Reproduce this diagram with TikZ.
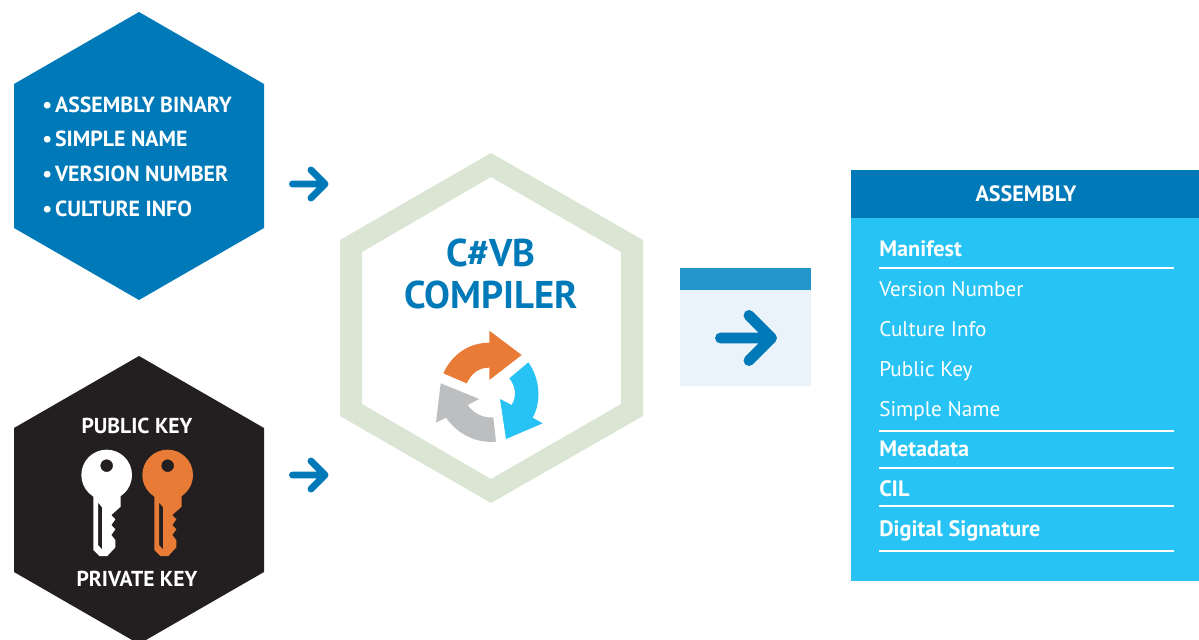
\documentclass[tikz,border=0pt]{standalone}
\usepackage{fontspec}
\setmainfont{PT Sans}
\usetikzlibrary{arrows.meta}
\definecolor{bluedark}{HTML}{0079B8}
\definecolor{bluelight}{HTML}{27C3F4}
\definecolor{bluemid}{HTML}{2496CA}
\definecolor{bluepale}{HTML}{EBF3FA}
\definecolor{hexgreen}{HTML}{DAE5D3}
\definecolor{hexblack}{HTML}{231F20}
\definecolor{keyorange}{HTML}{E87B35}
\definecolor{cyclegrey}{HTML}{BCBEC0}
\tikzset{
  hexlabel/.style={anchor=base west, text=white, font=\bfseries\fontsize{16.4}{18}\selectfont, inner sep=0pt},
  keylabel/.style={anchor=base, text=white, font=\bfseries\fontsize{16.2}{18}\selectfont, inner sep=0pt},
  complabel/.style={anchor=base, text=bluedark, font=\bfseries\fontsize{29}{30}\selectfont, inner sep=0pt},
  itemlabel/.style={anchor=base west, text=white, font=\fontsize{15.9}{18}\selectfont, inner sep=0pt},
  itembold/.style={itemlabel, font=\bfseries\fontsize{16.7}{18}\selectfont},
  panelrule/.style={draw=white, line width=1.5pt},
  flowarrow/.style={draw=bluedark, line width=5.2pt, line cap=round, line join=round},
}
\newcommand{\keyshape}[2]{%
  \begin{scope}[shift={(#1,430)}, x=0.25pt, y=-0.25pt]
  \fill[#2, even odd rule] (140,135) circle[radius=76] (140,107) circle[radius=19];
  \fill[#2, even odd rule] (100,180) -- (182,180) -- (182,230) -- (154,255) -- (166,268) -- (154,285) -- (166,298) -- (154,315) -- (166,330)
    -- (166,352) -- (142,378) -- (118,378) -- (100,360) -- cycle
    (114,217) -- (126,232) -- (126,358) -- (114,345) -- cycle;
  \end{scope}
}
\begin{document}
\begin{tikzpicture}[x=0.75pt, y=-0.75pt]
\useasboundingbox (0,0) rectangle (1199,639);
% hexagons on the left
\fill[bluedark] (139,12) -- (264,84) -- (264,228) -- (139,300) -- (14,228) -- (14,84) -- cycle;
\fill[hexblack] (139,356) -- (264,428) -- (264,572) -- (139,644) -- (14,572) -- (14,428) -- cycle;
\node [hexlabel] (binary) at (42,112.5) {•\kern2.2pt ASSEMBLY BINARY};
\node [hexlabel] (simple) at (42,146.5) {•\kern2.2pt SIMPLE NAME};
\node [hexlabel] (version) at (42,181.5) {•\kern2.2pt VERSION NUMBER};
\node [hexlabel] (culture) at (42,216.5) {•\kern2.2pt CULTURE INFO};
\node [keylabel] (public) at (137,433.5) {PUBLIC KEY};
\node [keylabel] (private) at (137,586.5) {PRIVATE KEY};
% keys
\keyshape{60}{white}
\keyshape{121}{keyorange}
% arrows in
\coordinate (inA) at (292.5,184);
\coordinate (inB) at (325,184);
\coordinate (inC) at (292.5,475);
\coordinate (inD) at (325,475);
\draw[flowarrow] (inA) -- (inB) ++(-14,-14) -- (inB) -- ++(-14,14);
\draw[flowarrow] (inC) -- (inD) ++(-14,-14) -- (inD) -- ++(-14,14);
% compiler
\fill[hexgreen, even odd rule]
  (491,153) -- (643,240) -- (643,416) -- (491,503) -- (340,416) -- (340,240) -- cycle
  (491,177) -- (621,252) -- (621,404) -- (491,479) -- (362,404) -- (362,252) -- cycle;
\node [complabel] (csvb) at (491,266) {C\#VB};
\node [complabel] (compiler) at (491,308) {COMPILER};
\begin{scope}[shift={(420,320)}, x=0.25pt, y=-0.25pt]
\fill[keyorange] (70,160) .. controls (95,105) and (145,68) .. (208,68) -- (208,32) -- (305,105) -- (208,180) -- (208,143)
  .. controls (175,143) and (155,160) .. (140,190) -- cycle;
\fill[bluelight] (325,127) .. controls (360,175) and (365,245) .. (338,293) -- (368,310) -- (258,357) -- (240,237) -- (275,255)
  .. controls (290,230) and (288,200) .. (268,175) -- cycle;
\fill[cyclegrey] (228,365) .. controls (170,370) and (115,345) .. (78,293) -- (48,308) -- (62,190) -- (178,237) -- (143,255)
  .. controls (160,280) and (190,295) .. (220,292) -- cycle;
\end{scope}
% window
\fill[bluepale] (680,290) rectangle (811,386);
\fill[bluemid] (680,268) rectangle (811,290);
\coordinate (outA) at (720.5,338);
\coordinate (outB) at (771.5,338);
\draw[flowarrow, line width=8.2pt] (outA) -- (outB) ++(-22.5,-22.5) -- (outB) -- ++(-22.5,22.5);
% assembly panel
\fill[bluelight] (851,218) rectangle (1199,581);
\fill[bluedark] (851,170) rectangle (1199,218);
\node [keylabel, font=\bfseries\fontsize{16.6}{18}\selectfont] (assembly) at (1026,201) {ASSEMBLY};
\node [itembold] (manifest) at (879,256) {Manifest};
\node [itemlabel] (versionnum) at (879,296) {Version Number};
\node [itemlabel] (cultureinfo) at (879,336) {Culture Info};
\node [itemlabel] (publickey) at (879,376) {Public Key};
\node [itemlabel] (simplename) at (879,416) {Simple Name};
\node [itembold] (metadata) at (879,456) {Metadata};
\node [itembold] (cil) at (879,496) {CIL};
\node [itembold] (signature) at (879,536) {Digital Signature};
\foreach \y in {268,431,468,506,551}
  \draw[panelrule] (879,\y) -- (1174,\y);
\end{tikzpicture}
\end{document}
